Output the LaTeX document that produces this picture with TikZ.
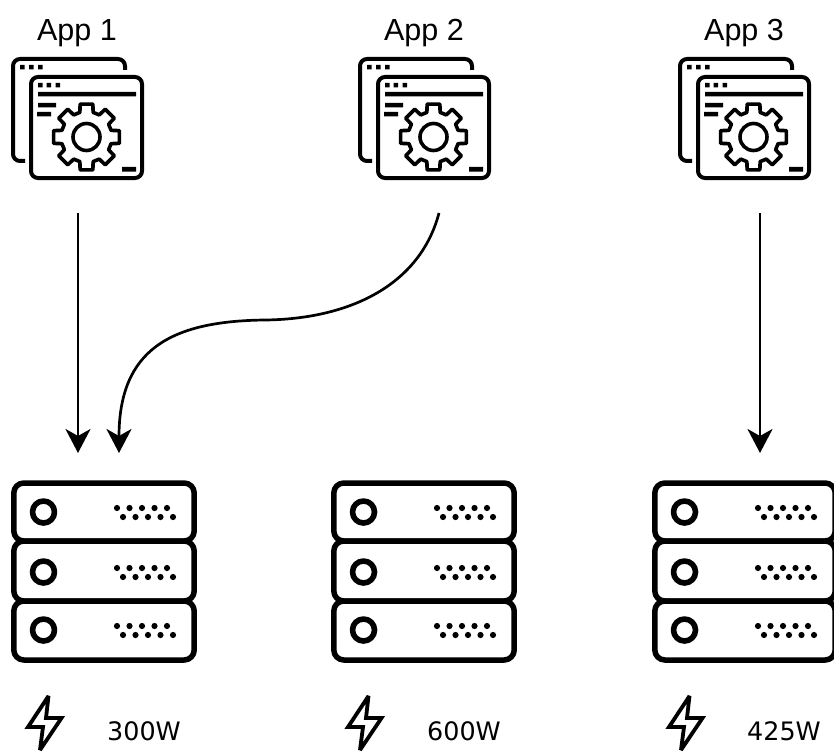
\documentclass[tikz,border=0pt]{standalone}
\usepackage{fontspec}
\setmainfont{Liberation Sans}
\newfontfamily\wattfont{DejaVu Sans}
\usetikzlibrary{arrows.meta}
\tikzset{
  ink/.style={line width=#1,draw=black,line cap=butt,line join=round},
  flow/.style={line width=2.7pt,draw=black,-{Stealth[length=24pt,width=25pt,inset=7pt]}},
  applabel/.style={font=\fontsize{30.5}{30.5}\selectfont,inner sep=0pt,anchor=base},
  wattlabel/.style={font=\wattfont\fontsize{25.4}{25.4}\selectfont,inner sep=0pt,anchor=base west},
}
\newcommand{\appicon}[1]{%
 \begin{scope}[shift={(#1,0)}]
  \draw[ink=4pt,rounded corners=7pt] (125,70) -- (125,59) -- (13,59) -- (13,161) -- (25,161);
  \draw[ink=4pt,rounded corners=7pt] (31,77) rectangle (142,178);
  \fill (20,65) rectangle (24.5,69.5) (29,65) rectangle (33.5,69.5) (38,65) rectangle (42.5,69.5);
  \fill (38,83) rectangle (42.5,87.5) (46.5,83) rectangle (51,87.5) (55.5,83) rectangle (60,87.5);
  \fill (38,92) rectangle (136,96.5) (38,103) rectangle (56,107.5) (37,112) rectangle (51,116.5) (122,167) rectangle (136,171.5);
  \begin{scope}[shift={(86.5,137)}]
   \draw[ink=3.6pt] (75:25.5) \foreach \a in {0,45,...,315}{ -- (\a+90-15:25.5) -- (\a+90-11:33.5) -- (\a+90+11:33.5) -- (\a+90+15:25.5) } -- cycle;
   \draw[ink=3.6pt] (0,0) circle[radius=13.5];
  \end{scope}
 \end{scope}}
\newcommand{\serverrack}[1]{%
 \begin{scope}[shift={(#1,0)}]
  \foreach \t/\b/\c in {483/541/512,541/601/572,601/660/630}{
   \draw[ink=5.5pt,rounded corners=10pt] (13.8,\t) rectangle (194.2,\b);
   \draw[ink=5.6pt] (43.5,\c) circle[radius=11];
   \foreach \x in {117,129.5,142,154.5,167}{
    \fill (\x,\c-4) circle[radius=3.1];
    \fill (\x+6,\c+5) circle[radius=3.1];
   }
  }
 \end{scope}}
\newcommand{\bolt}[1]{%
 \draw[ink=3.8pt,shift={(#1,0)},line join=miter,miter limit=3] (48.5,696) -- (28,727) -- (43,727) -- (40,750) -- (61.5,718) -- (46,718) -- cycle;}
\begin{document}
\begin{tikzpicture}[x=1pt,y=-1pt]
\useasboundingbox (0,0) rectangle (834,754);
\clip (0,0) rectangle (834,754);
\appicon{0}\appicon{347}\appicon{667}
\node[applabel] (t1) at (77,40.5) {App 1};
\node[applabel] (t2) at (424,40.5) {App 2};
\node[applabel] (t3) at (744,40.5) {App 3};
\serverrack{0}\serverrack{320}\serverrack{641}
\bolt{0}\bolt{320}\bolt{641}
\node[wattlabel] (w1) at (107,740) {300W};
\node[wattlabel] (w2) at (427,740) {600W};
\node[wattlabel] (w3) at (747,740) {425W};
\coordinate (s1) at (78,213);\coordinate (e1) at (78,453);
\coordinate (s2) at (439,213);\coordinate (e2) at (119,453);
\coordinate (s3) at (760,213);\coordinate (e3) at (760,453);
\draw[flow] (s1) -- (e1);
\draw[flow] (s3) -- (e3);
\draw[flow] (s2) .. controls (420,285) and (350,319) .. (265,320) .. controls (170,321) and (119,350) .. (e2);
\end{tikzpicture}
\end{document}
